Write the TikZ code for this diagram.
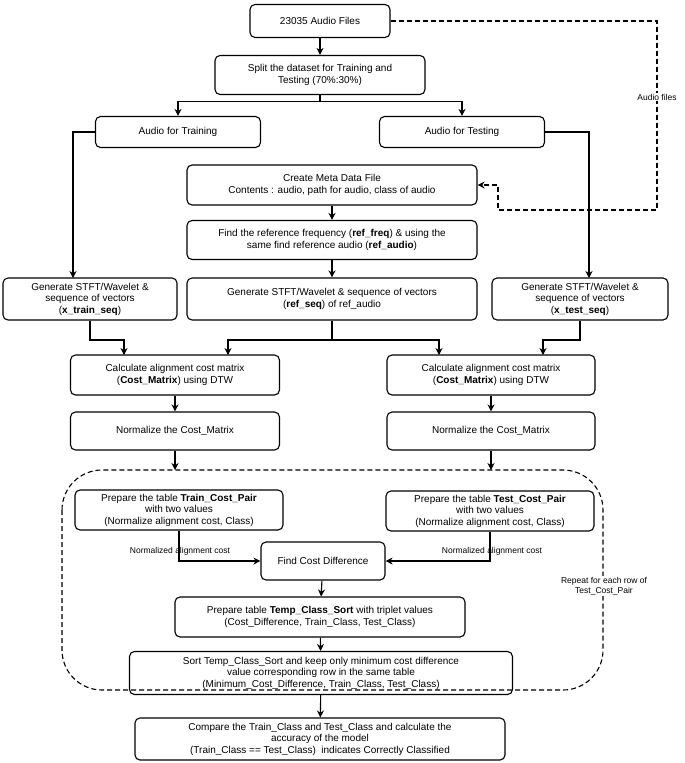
\documentclass[tikz,border=0pt]{standalone}
\usepackage{fontspec}
\setmainfont{Liberation Sans}
\usetikzlibrary{arrows.meta}
\begin{document}
\begin{tikzpicture}[x=1pt,y=-1pt,font=\fontsize{10}{11.5}\selectfont,
    box/.style={draw, rounded corners=5pt, line width=1.1pt, align=center,
                inner sep=2pt},
    flow/.style={line width=1.1pt, -{Stealth[length=7pt,width=7pt]}},
    link/.style={line width=1.1pt},
    dashline/.style={dash pattern=on 5pt off 3pt},
    lbl/.style={font=\fontsize{8.5}{10}\selectfont, fill=white, inner sep=1pt}]
    \useasboundingbox (0,0) rectangle (685,763);
    % Top part
    \node[box, minimum width=140, minimum height=33] (files) at (320,21) {23035 Audio Files};
    \node[box, minimum width=210, minimum height=39] (split) at (320,75)
        {Split the dataset for Training and\\Testing (70\%:30\%)};
    \node[box, minimum width=165, minimum height=31] (train) at (178,132) {Audio for Training};
    \node[box, minimum width=165, minimum height=31] (test) at (462,132) {Audio for Testing};
    \node[box, minimum width=290, minimum height=40] (meta) at (332,185)
        {Create Meta Data File\\Contents : audio, path for audio, class of audio};
    \node[box, minimum width=290, minimum height=39] (ref) at (332,240)
        {Find the reference frequency (\textbf{ref\_freq}) \& using the\\same find reference audio (\textbf{ref\_audio})};
    % Feature boxes
    \node[box, minimum width=174, minimum height=42] (gentrain) at (90,299)
        {Generate STFT/Wavelet \&\\sequence of vectors\\(\textbf{x\_train\_seq})};
    \node[box, minimum width=290, minimum height=42] (genref) at (332,299)
        {Generate STFT/Wavelet \& sequence of vectors\\(\textbf{ref\_seq}) of ref\_audio};
    \node[box, minimum width=176, minimum height=42] (gentest) at (580,299)
        {Generate STFT/Wavelet \&\\sequence of vectors\\(\textbf{x\_test\_seq})};
    \node[box, minimum width=209, minimum height=40] (costL) at (175,375)
        {Calculate alignment cost matrix\\(\textbf{Cost\_Matrix}) using DTW};
    \node[box, minimum width=208, minimum height=40] (costR) at (491,375)
        {Calculate alignment cost matrix\\(\textbf{Cost\_Matrix}) using DTW};
    \node[box, minimum width=209, minimum height=38] (normL) at (175,431) {Normalize the Cost\_Matrix};
    \node[box, minimum width=208, minimum height=38] (normR) at (491,431) {Normalize the Cost\_Matrix};
    % Repeated part
    \draw[link, dashline, rounded corners=40pt] (62,470) rectangle (603,690);
    \coordinate (loopL) at (175,470);
    \coordinate (loopR) at (491,470);
    \node[box, minimum width=208, minimum height=40] (pairL) at (179,510)
        {Prepare the table \textbf{Train\_Cost\_Pair}\\with two values\\(Normalize alignment cost, Class)};
    \node[box, minimum width=208, minimum height=40] (pairR) at (490,511)
        {Prepare the table \textbf{Test\_Cost\_Pair}\\with two values\\(Normalize alignment cost, Class)};
    \node[box, minimum width=124, minimum height=38] (diff) at (323,561) {Find Cost Difference};
    \node[box, minimum width=290, minimum height=40] (sortT) at (320,617)
        {Prepare table \textbf{Temp\_Class\_Sort} with triplet values\\(Cost\_Difference, Train\_Class, Test\_Class)};
    \node[box, minimum width=383, minimum height=43] (keep) at (321,673)
        {Sort Temp\_Class\_Sort and keep only minimum cost difference\\value corresponding row in the same table\\(Minimum\_Cost\_Difference, Train\_Class, Test\_Class)};
    \node[box, minimum width=370, minimum height=42] (acc) at (320,739)
        {Compare the Train\_Class and Test\_Class and calculate the\\accuracy of the model\\(Train\_Class == Test\_Class)\ \ indicates Correctly Classified};
    \node[lbl, align=center] (repeat) at (604,586) {Repeat for each row of\\Test\_Cost\_Pair};
    \node[lbl, fill=none] (costlblL) at (180,551) {Normalized alignment cost};
    \node[lbl, fill=none] (costlblR) at (492,551) {Normalized alignment cost};
    % Connect the boxes
    \draw[flow] (files) -- (split);
    \draw[flow] (split.south) -- ++(0,6) -| (train.north);
    \draw[flow] (split.south) -- ++(0,6) -| (test.north);
    \draw[flow] (train.west) -| (73,278);
    \draw[flow] (test.east) -| (589,278);
    \draw[flow] (meta) -- (ref);
    \draw[flow] (ref) -- (genref);
    \draw[flow] (gentrain.south) |- (124,340) -- (124,355);
    \draw[flow] (genref.south) |- (228,340) -- (228,355);
    \draw[flow] (genref.south) |- (439,340) -- (439,355);
    \draw[flow] (gentest.south) |- (543,340) -- (543,355);
    \draw[flow] (costL) -- (normL);
    \draw[flow] (costR) -- (normR);
    \draw[flow] (normL) -- (loopL);
    \draw[flow] (normR) -- (loopR);
    \draw[flow] (pairL.south) |- (diff.west);
    \draw[flow] (pairR.south) |- (diff.east);
    \draw[flow] (diff) -- (sortT);
    \draw[flow] (sortT) -- (keep);
    \draw[flow] (keep) -- (acc);
    % Dashed audio link
    \draw[link, dashline, -{Stealth[length=7pt,width=7pt]}] (files.east) -| (657,210)
        -| (498,185) -- (meta.east);
    \node[lbl] (audio) at (657,97) {Audio files};
\end{tikzpicture}
\end{document}
